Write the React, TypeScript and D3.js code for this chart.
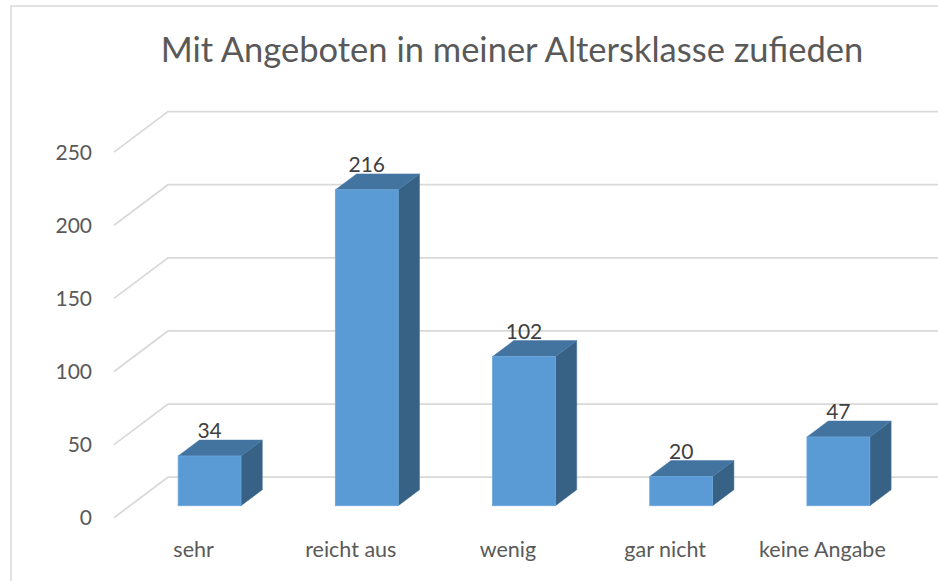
import React from "react";
import * as d3 from "d3";

const title = "Mit Angeboten in meiner Altersklasse zufieden";
const categories = ["sehr", "reicht aus", "wenig", "gar nicht", "keine Angabe"];
const values = [34, 216, 102, 20, 47];
const yTicks = [0, 50, 100, 150, 200, 250];

const W = 938;
const H = 581;
const FONT = "Lato, 'Open Sans', sans-serif";

export default function App() {
  // front plane
  const x = d3.scaleBand<string>().domain(categories).range([115, 901]);
  const y = d3.scaleLinear().domain([0, 250]).range([517.7, 152.1]);
  const wallDx = 54;
  const wallDy = -40.5;
  const d0 = 0.296; // bar front depth fraction
  const d1 = 0.69; // bar back depth fraction
  const barW = x.bandwidth() * 0.4;
  const ddx = wallDx * (d1 - d0);
  const ddy = wallDy * (d1 - d0);
  const frontDx = wallDx * d0;
  const frontDy = wallDy * d0;
  const wallRight = W + 5;

  const poly = (pts: [number, number][]) => d3.line()(pts) + "Z";

  return (
    <svg
      width={W}
      height={H}
      style={{ position: "absolute", left: 0, top: 0, background: "#fff" }}
      fontFamily={FONT}
    >
      <rect x={11} y={6} width={W + 20} height={H + 20} fill="#fff" stroke="#d9d9d9" strokeWidth={1.5} />
      <text x={512} y={62} textAnchor="middle" fontSize={34.5} fill="#595959">
        {title}
      </text>
      {/* gridlines */}
      {yTicks.map((t) => {
        const yf = y(t);
        const xf = x.range()[0] - 1;
        return (
          <g key={t}>
            <path
              d={d3.line()([
                [xf, yf],
                [xf + wallDx, yf + wallDy],
                [wallRight, yf + wallDy],
              ])!}
              fill="none"
              stroke="#d9d9d9"
              strokeWidth={1.75}
            />
            <text x={92} y={yf + 7.5} textAnchor="end" fontSize={21} fill="#595959">
              {t}
            </text>
          </g>
        );
      })}
      {/* bars */}
      {categories.map((c, i) => {
        const cx = x(c)! + x.bandwidth() / 2 + frontDx;
        const xl = cx - barW / 2;
        const xr = cx + barW / 2;
        const yb = y(0) + frontDy;
        const yt = y(values[i]) + frontDy;
        return (
          <g key={c}>
            <path
              d={poly([
                [xr, yt],
                [xr, yb],
                [xr + ddx, yb + ddy],
                [xr + ddx, yt + ddy],
              ])}
              fill="#386186"
              stroke="#3f6a92"
              strokeWidth={0.5}
            />
            <path
              d={poly([
                [xl, yt],
                [xr, yt],
                [xr + ddx, yt + ddy],
                [xl + ddx, yt + ddy],
              ])}
              fill="#43739f"
              stroke="#4a7cab"
              strokeWidth={0.5}
            />
            <rect x={xl} y={yt} width={barW} height={yb - yt} fill="#5b9bd5" stroke="#6aa6dc" strokeWidth={0.8} />
            <text x={cx} y={yt + ddy - 2} textAnchor="middle" fontSize={21} fill="#404040">
              {values[i]}
            </text>
          </g>
        );
      })}
      {/* category labels */}
      {categories.map((c) => (
        <text
          key={c}
          x={x(c)! + x.bandwidth() / 2}
          y={557}
          textAnchor="middle"
          fontSize={21.5}
          fill="#595959"
        >
          {c}
        </text>
      ))}
    </svg>
  );
}
